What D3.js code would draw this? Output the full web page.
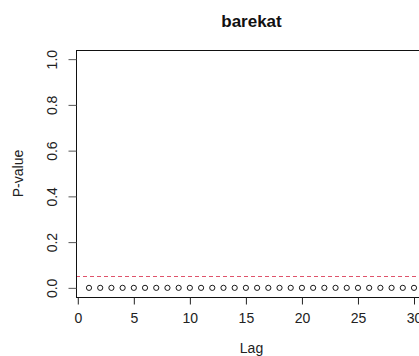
<!DOCTYPE html>
<html>
<head>
<meta charset="utf-8">
<script src="https://cdn.jsdelivr.net/npm/d3@7"></script>
<style>
  html, body { margin: 0; padding: 0; background: #fff; }
  svg { display: block; font-family: "Liberation Sans", Arial, sans-serif; }
</style>
</head>
<body>
<div id="chart"></div>
<script>
/* Ljung-Box style p-value plot */

const title = "barekat";
const lags = d3.range(1, 31);
const pValues = [0, 0, 0, 0, 0, 0, 0, 0, 0, 0, 0, 0, 0, 0, 0,
                 0, 0, 0, 0, 0, 0, 0, 0, 0, 0, 0, 0, 0, 0, 0];
const threshold = 0.05;
const xTicks = [0, 5, 10, 15, 20, 25, 30];
const yTicks = [0, 0.2, 0.4, 0.6, 0.8, 1.0];

const width = 419, height = 356;
const plot = { left: 76, right: 427, top: 50, bottom: 297 };

const svg = d3.select("#chart")
  .append("svg")
  .attr("width", width)
  .attr("height", height);

// R pads the range by 4% on each side
const x = d3.scaleLinear().domain([1 - 29 * 0.04, 30 + 29 * 0.04]).range([plot.left, plot.right]);
const y = d3.scaleLinear().domain([-0.04, 1.04]).range([plot.bottom, plot.top]);

// Threshold line
svg.append("line")
  .attr("x1", plot.left)
  .attr("x2", plot.right)
  .attr("y1", Math.round(y(threshold)) + 0.5)
  .attr("y2", Math.round(y(threshold)) + 0.5)
  .attr("stroke", "#DF536B")
  .attr("stroke-width", 1)
  .attr("stroke-dasharray", "4,3");

// Points
svg.selectAll("circle")
  .data(lags.map((l, i) => ({ lag: l, p: pValues[i] })))
  .join("circle")
  .attr("cx", d => x(d.lag))
  .attr("cy", d => y(d.p))
  .attr("r", 2.6)
  .attr("fill", "none")
  .attr("stroke", "#000")
  .attr("stroke-width", 0.9);

// Box
svg.append("rect")
  .attr("x", plot.left + 0.5)
  .attr("y", plot.top + 0.5)
  .attr("width", plot.right - plot.left)
  .attr("height", plot.bottom - plot.top)
  .attr("fill", "none")
  .attr("stroke", "#111")
  .attr("stroke-width", 1);

// X axis
const xAxis = svg.append("g")
  .attr("transform", `translate(0,${plot.bottom + 0.5})`)
  .call(d3.axisBottom(x).tickValues(xTicks).tickSize(7).tickPadding(9).tickFormat(d3.format("d")));
xAxis.select(".domain").remove();
xAxis.selectAll("line").attr("stroke", "#222");
xAxis.selectAll("text").attr("font-size", 14).attr("fill", "#222").attr("font-family", null);

// Y axis with rotated labels
const yAxis = svg.append("g")
  .attr("transform", `translate(${plot.left + 0.5},0)`)
  .call(d3.axisLeft(y).tickValues(yTicks).tickSize(8).tickFormat(d3.format(".1f")));
yAxis.select(".domain").remove();
yAxis.selectAll("line").attr("stroke", "#555");
yAxis.selectAll("text")
  .attr("x", null).attr("dy", null)
  .attr("transform", "translate(-20,0) rotate(-90)")
  .attr("text-anchor", "middle")
  .attr("font-size", 14)
  .attr("fill", "#222")
  .attr("font-family", null);

// Title
svg.append("text")
  .attr("x", (plot.left + plot.right) / 2)
  .attr("y", 27)
  .attr("text-anchor", "middle")
  .attr("font-size", 17)
  .attr("font-weight", "bold")
  .attr("fill", "#111")
  .text(title);

// Axis titles
svg.append("text")
  .attr("x", (plot.left + plot.right) / 2)
  .attr("y", 353)
  .attr("text-anchor", "middle")
  .attr("font-size", 14)
  .attr("fill", "#222")
  .text("Lag");

svg.append("text")
  .attr("transform", `translate(22.5,${(plot.top + plot.bottom) / 2}) rotate(-90)`)
  .attr("text-anchor", "middle")
  .attr("font-size", 14)
  .attr("fill", "#222")
  .text("P-value");
</script>
</body>
</html>
